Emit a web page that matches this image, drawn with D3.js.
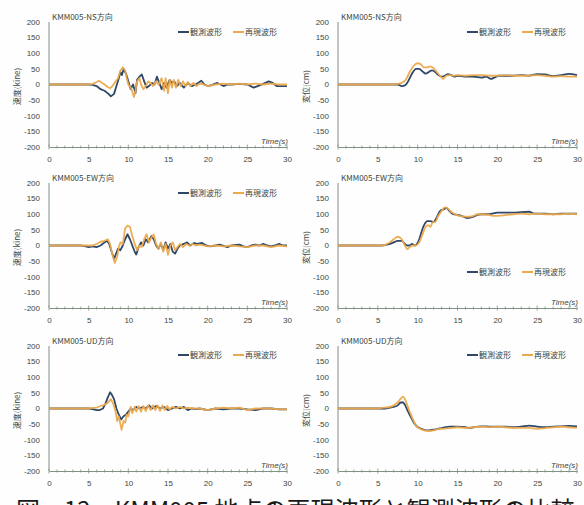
<!DOCTYPE html>
<html>
<head>
<meta charset="utf-8">
<script src="https://cdn.jsdelivr.net/npm/d3@7/dist/d3.min.js"></script>
<style>
  html, body { margin: 0; padding: 0; background: #fff; }
  svg { display: block; }
</style>
</head>
<body>
<svg id="chart" width="584" height="505"></svg>
<script>
// ---- data: time (s) / value pairs ----
const xTicks = [0, 5, 10, 15, 20, 25, 30];
const yTicks = [200, 150, 100, 50, 0, -50, -100, -150, -200];
const legendNames = ["観測波形", "再現波形"];
const panelTitles = ["KMM005-NS方向", "KMM005-NS方向", "KMM005-EW方向", "KMM005-EW方向", "KMM005-UD方向", "KMM005-UD方向"];
const yLabels = ["速度(kine)", "変位(cm)"];
const captionText = "図－12　KMM005 地点の再現波形と観測波形の比較";

// NS velocity (kine)
const nsVelObs = [[0,0],[5,0],[5.5,-1],[6,-5],[6.5,-15],[7,-20],[7.5,-30],[7.8,-38],[8.2,-30],[8.5,-5],[8.8,20],[9,40],[9.2,30],[9.4,50],[9.7,35],[10,10],[10.3,-15],[10.6,0],[10.9,-28],[11.1,15],[11.4,25],[11.7,32],[12,10],[12.3,-10],[12.6,-5],[13,5],[13.3,0],[13.6,25],[13.9,5],[14.2,-15],[14.5,5],[14.8,-10],[15.2,15],[15.5,5],[15.8,10],[16.1,-5],[16.5,5],[17,-10],[17.5,5],[18,-5],[18.5,0],[19.2,12],[19.6,0],[20,-5],[20.5,-2],[21.2,5],[22,-5],[22.5,0],[23,0],[24,2],[25,0],[25.8,-10],[26.3,-5],[27,2],[27.7,10],[28.2,5],[28.7,-5],[29.5,-5],[30,-5]];
const nsVelRec = [[0,0],[5,0],[5.5,2],[6,8],[6.3,12],[6.7,5],[7,0],[7.4,-8],[7.7,-12],[8,-5],[8.4,10],[8.7,20],[9,45],[9.3,55],[9.6,45],[9.8,20],[10,0],[10.3,-10],[10.5,-23],[10.7,-40],[10.9,-20],[11.1,10],[11.4,20],[11.6,0],[11.9,-15],[12.2,-5],[12.5,10],[12.8,5],[13.1,-5],[13.5,10],[13.8,0],[14.2,20],[14.5,-20],[14.7,20],[15,-28],[15.2,15],[15.5,-10],[15.7,15],[16,-10],[16.3,15],[16.6,-5],[16.9,10],[17.2,-5],[17.5,8],[17.8,-5],[18.2,5],[18.6,-5],[19,3],[19.5,0],[20,-5],[21,0],[22,3],[23,0],[24,3],[25,0],[26,3],[27,0],[28,3],[29,0],[30,0]];

// NS displacement (cm)
const nsDispObs = [[0,0],[7.5,0],[8,-5],[8.4,-3],[8.8,10],[9.3,35],[9.8,50],[10.2,50],[10.6,42],[11,35],[11.4,40],[11.8,45],[12.2,40],[12.6,30],[13,25],[13.4,28],[13.8,33],[14.2,30],[14.6,25],[15,28],[15.5,27],[16,25],[17,25],[18,22],[18.6,25],[19.2,18],[19.6,22],[20.2,28],[21,28],[22,28],[23,30],[24,28],[25,33],[26,32],[27,27],[28,30],[29,34],[30,30]];
const nsDispRec = [[0,0],[7,0],[7.5,2],[8,5],[8.5,15],[9,40],[9.5,60],[10,68],[10.4,65],[10.8,55],[11.2,55],[11.6,58],[12,52],[12.4,40],[12.8,28],[13.2,18],[13.6,28],[14,30],[14.5,28],[15,30],[16,28],[17,30],[18,30],[19,28],[20,28],[21,30],[22,28],[23,28],[24,28],[25,30],[26,28],[27,25],[28,27],[29,25],[30,25]];

// EW velocity (kine)
const ewVelObs = [[0,0],[4,0],[4.5,-2],[5,-5],[5.5,-3],[6,-5],[6.5,0],[7,10],[7.3,15],[7.6,5],[7.9,-20],[8.2,-42],[8.4,-30],[8.7,-10],[9,-15],[9.3,0],[9.6,20],[9.9,36],[10.2,20],[10.5,0],[10.8,-20],[11,-29],[11.3,-5],[11.6,10],[11.9,0],[12.2,20],[12.5,10],[12.9,30],[13.2,20],[13.5,0],[13.8,-10],[14.1,5],[14.4,-15],[14.7,10],[15,-10],[15.3,5],[15.6,-20],[15.9,-26],[16.2,-10],[16.5,0],[17,5],[17.4,10],[17.8,0],[18.3,8],[18.7,5],[19.3,8],[19.8,0],[20.3,-3],[21,0],[21.5,3],[22.5,-5],[23,0],[24,3],[24.5,-3],[25,-5],[25.5,0],[26,3],[26.5,0],[27,5],[27.5,0],[28,-3],[28.5,0],[29,5],[29.5,0],[30,0]];
const ewVelRec = [[0,0],[5.5,0],[6,5],[6.5,12],[7,15],[7.4,20],[7.7,5],[8,-30],[8.3,-56],[8.6,-35],[8.8,-5],[9,10],[9.3,5],[9.6,55],[9.9,64],[10.2,60],[10.5,30],[10.8,5],[11.1,-15],[11.4,0],[11.7,-5],[12,20],[12.3,36],[12.6,10],[12.9,25],[13.2,35],[13.5,5],[13.8,-10],[14.1,10],[14.4,-20],[14.7,5],[15,-30],[15.3,0],[15.6,10],[15.9,-15],[16.2,-5],[16.5,5],[16.9,-5],[17.3,5],[17.7,0],[18.1,5],[18.5,0],[19,3],[20,-3],[21,0],[22,-3],[23,0],[24,-3],[25,-5],[26,0],[27,0],[28,-5],[29,0],[30,-3]];

// EW displacement (cm)
const ewDispObs = [[0,0],[5.5,0],[6,2],[6.5,5],[7,10],[7.5,15],[8,15],[8.4,5],[8.7,0],[9,0],[9.3,5],[9.6,0],[9.9,5],[10.2,20],[10.5,45],[10.8,65],[11.2,78],[11.6,78],[12,75],[12.4,90],[12.8,110],[13.2,115],[13.6,120],[14,110],[14.5,100],[15,98],[15.5,95],[16.2,88],[17,92],[17.5,98],[18,100],[19,100],[19.5,103],[20,105],[21,105],[22,105],[23,107],[24,108],[24.5,103],[25,102],[26,102],[27,100],[28,102],[29,102],[30,102]];
const ewDispRec = [[0,0],[5.5,0],[6,3],[6.5,10],[7,20],[7.5,28],[8,20],[8.4,0],[8.7,-12],[9,-5],[9.4,0],[9.8,0],[10.2,10],[10.6,35],[10.9,55],[11.3,65],[11.6,60],[11.9,75],[12.2,75],[12.6,95],[13,110],[13.4,122],[13.8,118],[14.2,108],[14.7,100],[15.2,95],[15.7,93],[16.2,92],[17,95],[17.5,100],[18,100],[19,98],[19.5,95],[20,95],[21,97],[22,100],[23,102],[24,100],[25,102],[26,100],[27,100],[28,100],[29,102],[30,100]];

// UD velocity (kine)
const udVelObs = [[0,0],[5,0],[5.5,-2],[6,-5],[6.4,-5],[6.8,0],[7.1,15],[7.4,35],[7.7,52],[7.9,45],[8.2,30],[8.5,0],[8.8,-20],[9.1,-35],[9.4,-25],[9.7,-20],[10,-10],[10.3,0],[10.6,-5],[11,5],[11.4,0],[11.8,5],[12.2,0],[12.6,10],[13,0],[13.5,8],[14,0],[14.5,5],[15,-5],[15.5,0],[16,5],[16.5,0],[17,5],[17.5,-5],[18,0],[18.5,-2],[19,0],[20,-5],[21,0],[22,-3],[23,0],[24,0],[25,-3],[26,-5],[27,0],[28,0],[29,-3],[30,-3]];
const udVelRec = [[0,0],[5,0],[5.5,2],[6,3],[6.5,8],[7,12],[7.4,18],[7.8,30],[8.1,15],[8.4,-10],[8.6,-40],[8.8,-25],[9,-50],[9.15,-68],[9.4,-40],[9.6,-45],[9.8,-20],[10,-25],[10.3,5],[10.5,-15],[10.8,5],[11,-10],[11.3,8],[11.6,-10],[11.9,8],[12.2,-8],[12.5,10],[12.8,-5],[13.1,10],[13.4,-5],[13.7,10],[14,-8],[14.3,10],[14.6,-5],[14.9,8],[15.2,-3],[15.5,5],[16,0],[16.5,5],[17,0],[17.5,3],[18,0],[19,0],[20,-5],[21,0],[22,3],[23,0],[24,3],[25,-5],[26,0],[27,0],[28,0],[29,-3],[30,-3]];

// UD displacement (cm)
const udDispObs = [[0,0],[6,0],[6.5,3],[7,5],[7.5,10],[7.8,18],[8.1,20],[8.4,12],[8.7,-5],[9,-20],[9.4,-40],[9.8,-55],[10.3,-63],[10.8,-68],[11.3,-70],[12,-68],[12.5,-65],[13,-63],[13.5,-60],[14,-58],[15,-58],[16,-60],[16.5,-62],[17,-60],[18,-57],[19,-58],[20,-58],[21,-58],[22,-60],[23,-58],[24,-55],[25,-58],[26,-60],[27,-58],[28,-57],[29,-56],[30,-57]];
const udDispRec = [[0,0],[5,0],[5.5,2],[6,3],[6.5,5],[7,10],[7.5,20],[7.9,32],[8.15,38],[8.4,30],[8.7,10],[9,-10],[9.4,-35],[9.8,-55],[10.3,-65],[10.8,-70],[11.3,-72],[12,-70],[12.5,-66],[13,-65],[14,-63],[15,-60],[16,-62],[17,-60],[18,-58],[19,-60],[20,-58],[21,-60],[22,-62],[23,-62],[24,-62],[25,-65],[26,-63],[27,-60],[28,-58],[29,-60],[30,-62]];

// ---- layout ----
const cols = [{x0: 49, x1: 287}, {x0: 338, x1: 577}];
const rows = [{top: 22, bottom: 147}, {top: 183, bottom: 308}, {top: 346, bottom: 471}];

const panels = [
  {row: 0, col: 0, obs: nsVelObs, rec: nsVelRec, kind: "vel", legend: {x: 178, dy: 10}},
  {row: 0, col: 1, obs: nsDispObs, rec: nsDispRec, kind: "disp", legend: {x: 467, dy: 10}},
  {row: 1, col: 0, obs: ewVelObs, rec: ewVelRec, kind: "vel", legend: {x: 178, dy: 10}},
  {row: 1, col: 1, obs: ewDispObs, rec: ewDispRec, kind: "disp", legend: {x: 467, dy: 89}},
  {row: 2, col: 0, obs: udVelObs, rec: udVelRec, kind: "vel", legend: {x: 178, dy: 9}},
  {row: 2, col: 1, obs: udDispObs, rec: udDispRec, kind: "disp", legend: {x: 467, dy: 9}}
];

const colorObs = "#2f4868";
const colorRec = "#eba94c";
const axisColor = "#7f9283";
const textColor = "#3c463e";
const tickFont = "Liberation Sans, Arial, sans-serif";
const cjkFont = "Noto Sans CJK JP, sans-serif";

const svg = d3.select("#chart");
svg.append("rect").attr("width", 584).attr("height", 505).attr("fill", "#fefefe");

panels.forEach((p, i) => {
  const c = cols[p.col], r = rows[p.row];
  const x = d3.scaleLinear().domain([0, 30]).range([c.x0, c.x1]);
  const y = d3.scaleLinear().domain([-200, 200]).range([r.bottom, r.top]);
  const g = svg.append("g");

  // y axis line
  g.append("line")
    .attr("x1", c.x0).attr("x2", c.x0)
    .attr("y1", y(200)).attr("y2", y(-200))
    .attr("stroke", axisColor).attr("stroke-width", 1);

  // y tick labels
  g.selectAll("text.ytick").data(yTicks).join("text")
    .attr("class", "ytick")
    .attr("x", c.x0 - 9).attr("y", d => y(d))
    .attr("dy", "0.35em")
    .attr("text-anchor", "end")
    .attr("font-family", tickFont).attr("font-size", 8)
    .attr("fill", textColor)
    .text(d => d);

  // x axis along the bottom of the plot
  const xAxis = d3.axisBottom(x).tickValues(xTicks).tickSize(0).tickPadding(9);
  const ax = g.append("g").attr("transform", `translate(0,${y(-200)})`).call(xAxis);
  ax.select(".domain").attr("stroke", axisColor).attr("stroke-width", 1.2);
  ax.selectAll("text").attr("font-family", tickFont).attr("font-size", 8).attr("fill", textColor);

  // small crossing ticks every second, bigger every 5 s
  const minor = d3.range(0, 31, 1);
  g.selectAll("line.mtick").data(minor).join("line")
    .attr("class", "mtick")
    .attr("x1", d => x(d)).attr("x2", d => x(d))
    .attr("y1", d => y(-200) - (d % 5 === 0 ? 2.5 : 1.5))
    .attr("y2", d => y(-200) + (d % 5 === 0 ? 2.5 : 1.5))
    .attr("stroke", axisColor).attr("stroke-width", 0.8);

  // Time(s) label at the right end
  g.append("text")
    .attr("x", c.x1 + 1).attr("y", y(-200) - 3)
    .attr("text-anchor", "end")
    .attr("font-family", tickFont).attr("font-size", 8)
    .attr("font-style", "italic")
    .attr("fill", textColor)
    .text("Time(s)");

  // y axis title
  g.append("text")
    .attr("transform", `translate(${c.x0 - 29},${(r.top + r.bottom) / 2 + 2}) rotate(-90)`)
    .attr("text-anchor", "middle")
    .attr("font-family", cjkFont).attr("font-size", 8)
    .attr("fill", textColor)
    .text(yLabels[p.col]);

  // panel title
  g.append("text")
    .attr("x", c.x0 + 3).attr("y", r.top - 2)
    .attr("font-family", cjkFont).attr("font-size", 8)
    .attr("fill", textColor)
    .text(panelTitles[i]);

  // waveforms
  const line = d3.line()
    .x(d => x(d[0])).y(d => y(d[1]))
    .curve(p.kind === "disp" ? d3.curveMonotoneX : d3.curveLinear);

  g.append("path").datum(p.obs)
    .attr("d", line).attr("fill", "none")
    .attr("stroke", colorObs).attr("stroke-width", 1.8)
    .attr("stroke-linejoin", "round");
  g.append("path").datum(p.rec)
    .attr("d", line).attr("fill", "none")
    .attr("stroke", colorRec).attr("stroke-width", 1.8)
    .attr("stroke-linejoin", "round").attr("opacity", 0.95);

  // legend
  const ly = r.top + p.legend.dy;
  const lg = g.append("g");
  [colorObs, colorRec].forEach((col, k) => {
    const lx = p.legend.x + k * 55;
    lg.append("line")
      .attr("x1", lx).attr("x2", lx + 11)
      .attr("y1", ly).attr("y2", ly)
      .attr("stroke", col).attr("stroke-width", 2);
    lg.append("text")
      .attr("x", lx + 12).attr("y", ly).attr("dy", "0.35em")
      .attr("font-family", cjkFont).attr("font-size", 8)
      .attr("fill", textColor)
      .text(legendNames[k]);
  });
});

// figure caption, running off the lower edge of the page
svg.append("text")
  .attr("x", 16).attr("y", 519)
  .attr("font-family", cjkFont).attr("font-size", 24)
  .attr("fill", "#1a1a1a")
  .text(captionText);
</script>
</body>
</html>
